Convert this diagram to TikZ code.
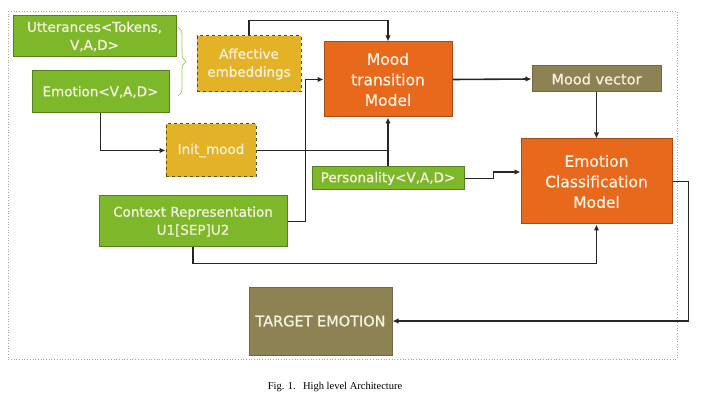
\documentclass[tikz,border=0pt]{standalone}
\usepackage{fontspec}
\setmainfont{Liberation Serif}
\newfontfamily\boxfont[FakeBold=0.9]{DejaVu Sans}
\usetikzlibrary{arrows.meta, decorations.pathreplacing}

\definecolor{leafgreen}{RGB}{125,184,42}
\definecolor{leafedge}{RGB}{84,128,30}
\definecolor{mango}{RGB}{232,104,28}
\definecolor{mangoedge}{RGB}{170,72,22}
\definecolor{gold}{RGB}{228,178,38}
\definecolor{goldedge}{RGB}{95,75,25}
\definecolor{olive}{RGB}{140,130,84}
\definecolor{cream}{RGB}{245,241,222}
\definecolor{wire}{RGB}{38,38,38}

\begin{document}
\begin{tikzpicture}[x=1pt, y=-1pt,
    box/.style={text=cream, align=center, inner sep=0pt, line width=1pt,
        font=\boxfont\fontsize{13.5}{18}\selectfont},
    inbox/.style={box, fill=leafgreen, draw=leafedge},
    dashbox/.style={box, fill=gold, draw=goldedge, dashed},
    modelbox/.style={box, fill=mango, draw=mangoedge,
        font=\boxfont\fontsize{15.5}{20.5}\selectfont},
    outbox/.style={box, fill=olive, draw=olive!80!black},
    link/.style={draw=wire, line width=1.6pt},
    arr/.style={link, -{Latex[length=6pt,width=5.5pt]}}]
    \useasboundingbox (0,0) rectangle (705,401);
    % Frame
    \draw[gray!70, dotted, line width=0.7pt] (8,11) rectangle (677,359);
    % Inputs
    \node[inbox, minimum width=163pt, minimum height=41pt] (utter) at (94.5,36.5) {Utterances<Tokens,\\V,A,D>};
    \node[inbox, minimum width=137pt, minimum height=42pt] (emo) at (100.5,92) {Emotion<V,A,D>};
    \node[inbox, minimum width=188pt, minimum height=51pt] (context) at (193,221.5) {Context Representation\\U1[SEP]U2};
    \node[inbox, minimum width=152pt, minimum height=23pt] (pers) at (388,178.5) {Personality<V,A,D>};
    % Intermediate
    \node[dashbox, minimum width=104pt, minimum height=56pt] (affect) at (249,64) {Affective\\embeddings};
    \node[dashbox, minimum width=90pt, minimum height=53pt] (init) at (211,150.5) {Init\_mood};
    \draw[leafgreen!80, line width=0.7pt, decorate, decoration={brace, amplitude=8pt}] (178,27) -- (178,96);
    % Models
    \node[modelbox, minimum width=128pt, minimum height=75pt] (mood) at (388,79.5) {Mood\\transition\\Model};
    \node[modelbox, minimum width=151pt, minimum height=85pt] (ecm) at (596.5,181.5) {Emotion\\Classification\\Model};
    % Outputs
    \node[outbox, minimum width=129pt, minimum height=26pt, font=\boxfont\fontsize{14.5}{18}\selectfont] (moodvec) at (596.5,79) {Mood vector};
    \node[outbox, minimum width=143pt, minimum height=68pt, font=\boxfont\fontsize{14.5}{18}\selectfont] (target) at (320.5,321) {TARGET EMOTION};
    % Connections
    \draw[arr] (affect.north) -- ++(0,-15) -| (mood.north);
    \draw[arr] (emo.south) |- (init.west);
    \draw[link] (init.east) -- (init.east -| mood.south);
    \draw[arr] (pers.north) -- (mood.south);
    \draw[arr] (context.east) -- ++(18,0) |- (mood.west);
    \draw[arr] (mood.east) -- (moodvec.west);
    \draw[arr] (moodvec.south) -- (ecm.north);
    \draw[arr] (pers.east) -- ++(29,0) |- ([yshift=9.5pt]ecm.west);
    \draw[arr] (context.south) -- ++(0,16) -| (ecm.south);
    \draw[arr] (ecm.east) -- ++(16,0) |- (target.east);
    % Caption
    \node (caption) at (335,387) {\fontsize{10.5}{12}\selectfont Fig. 1.\hspace{0.7em}High level Architecture};
\end{tikzpicture}
\end{document}
